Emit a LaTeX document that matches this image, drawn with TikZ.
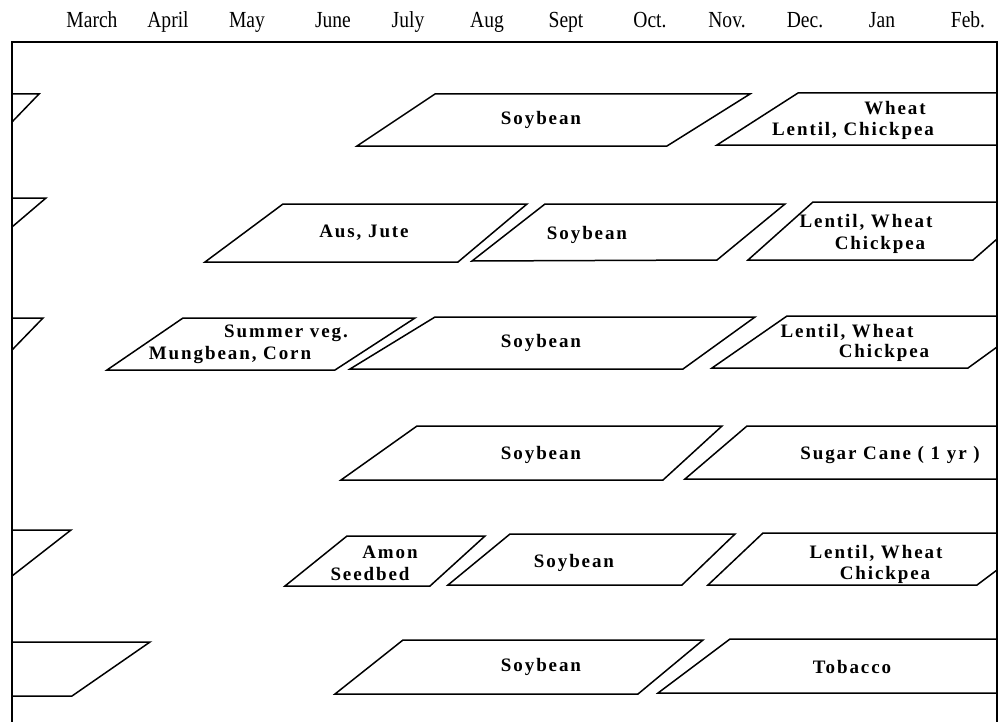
\documentclass[tikz,border=0pt]{standalone}
\usepackage{fontspec}
\setmainfont{Liberation Serif}
\newfontfamily\cropfont[LetterSpace=10]{Liberation Serif}
\newfontfamily\monthfont[FakeStretch=0.85]{Liberation Serif}

\begin{document}
\begin{tikzpicture}[x=0.5pt,y=-0.5pt,
  field/.style={draw=black,line width=0.75pt,line join=miter},
  crop/.style={font=\cropfont\bfseries\fontsize{9.5}{11}\selectfont,inner sep=0pt},
  month/.style={font=\monthfont\fontsize{11.5}{13}\selectfont,inner sep=0pt,anchor=base}]
  \useasboundingbox (0,0) rectangle (1006,722);
  % frame and months
  \draw[field] (12,722) -- (12,42) -- (997,42) -- (997,722);
  \foreach \m/\x [count=\i] in {March/92,April/168,May/247,June/333,July/408,Aug/487,
      Sept/566,Oct./650,Nov./727,Dec./805,Jan/882,Feb./968}
    \node[month] (m\i) at (\x,28) {\m};

  % row 1
  \draw[field] (12,94) -- (39,94) -- (12,122);
  \draw[field] (357,146) -- (435,94) -- (750,94) -- (667,146) -- cycle;
  \draw[field] (997,145) -- (717,145) -- (798,93) -- (997,93);
  \node[crop] (soy1) at (541,120) {Soybean};
  \node[crop] (wheat1) at (895,108) {Wheat};
  \node[crop] (lentil1) at (853,131) {Lentil, Chickpea};

  % row 2
  \draw[field] (12,198) -- (46,198) -- (12,227);
  \draw[field] (205,262) -- (283,204) -- (527,204) -- (458,262) -- cycle;
  \draw[field] (472,261) -- (545,204) -- (785,204) -- (717,260) -- cycle;
  \draw[field] (997,202) -- (813,202) -- (748,260) -- (973,260) -- (997,239);
  \node[crop] (aus2) at (364,233) {Aus, Jute};
  \node[crop] (soy2) at (587,235) {Soybean};
  \node[crop] (lentil2) at (866,222) {Lentil, Wheat};
  \node[crop] (chick2) at (880,245) {Chickpea};

  % row 3
  \draw[field] (12,318) -- (43,318) -- (12,350);
  \draw[field] (107,370) -- (183,318) -- (415,318) -- (335,370) -- cycle;
  \draw[field] (350,369) -- (435,317) -- (755,317) -- (683,369) -- cycle;
  \draw[field] (997,316) -- (787,316) -- (712,368) -- (968,368) -- (997,347);
  \node[crop] (veg3) at (286,333) {Summer veg.};
  \node[crop] (mung3) at (230,355) {Mungbean, Corn};
  \node[crop] (soy3) at (541,343) {Soybean};
  \node[crop] (lentil3) at (847,332) {Lentil, Wheat};
  \node[crop] (chick3) at (884,353) {Chickpea};

  % row 4
  \draw[field] (341,480) -- (417,426) -- (722,426) -- (663,480) -- cycle;
  \draw[field] (997,426) -- (747,426) -- (685,479) -- (997,479);
  \node[crop] (soy4) at (541,455) {Soybean};
  \node[crop] (cane4) at (890,455) {Sugar Cane ( 1 yr )};

  % row 5
  \draw[field] (12,530) -- (71,530) -- (12,576);
  \draw[field] (285,586) -- (347,536) -- (485,536) -- (430,586) -- cycle;
  \draw[field] (448,585) -- (510,534) -- (735,534) -- (682,585) -- cycle;
  \draw[field] (997,533) -- (763,533) -- (708,585) -- (977,585) -- (997,570);
  \node[crop] (amon5) at (390,552) {Amon};
  \node[crop] (seed5) at (370,574) {Seedbed};
  \node[crop] (soy5) at (574,563) {Soybean};
  \node[crop] (lentil5) at (876,553) {Lentil, Wheat};
  \node[crop] (chick5) at (885,575) {Chickpea};

  % row 6
  \draw[field] (12,642) -- (150,642) -- (72,696) -- (12,696);
  \draw[field] (335,694) -- (403,640) -- (703,640) -- (638,694) -- cycle;
  \draw[field] (997,639) -- (730,639) -- (658,693) -- (997,693);
  \node[crop] (soy6) at (541,667) {Soybean};
  \node[crop] (tob6) at (852,667) {Tobacco};
\end{tikzpicture}
\end{document}
